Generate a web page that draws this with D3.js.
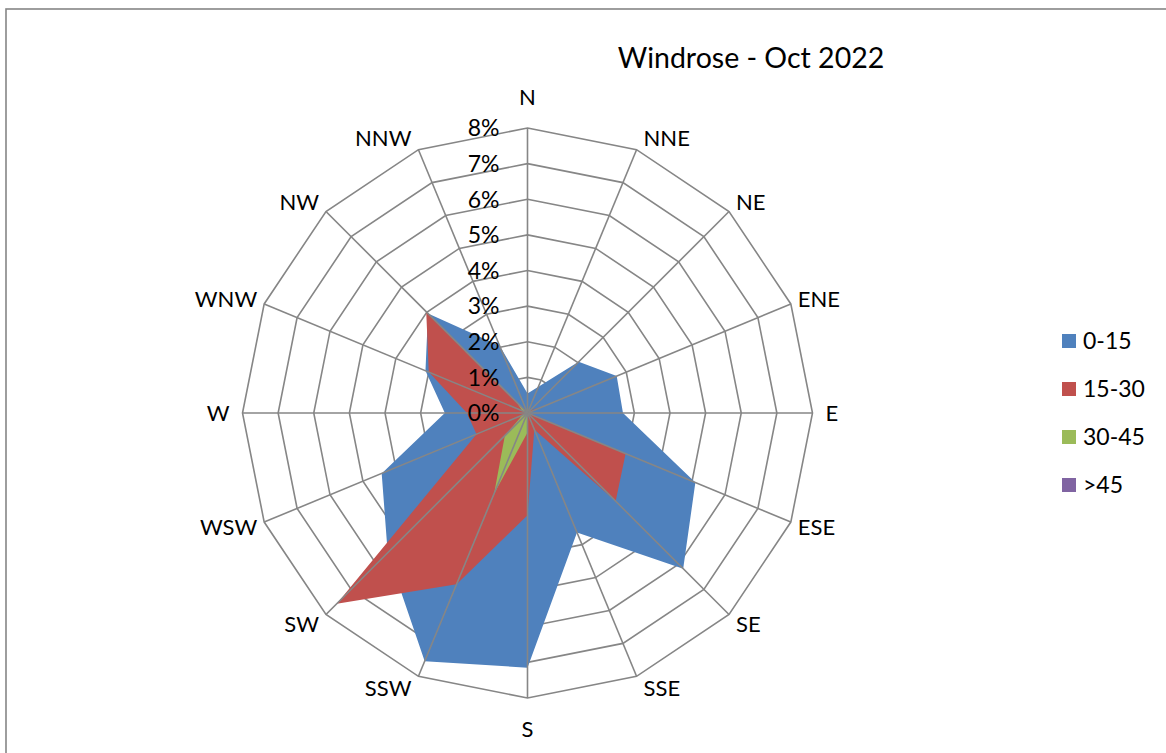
<!DOCTYPE html>
<html>
<head>
<meta charset="utf-8">
<script src="https://cdn.jsdelivr.net/npm/d3@7"></script>
<style>
  html, body { margin: 0; padding: 0; background: #fff; }
  svg { display: block; font-family: Lato, "Open Sans", sans-serif; }
</style>
</head>
<body>
<svg id="chart" width="1166" height="753"></svg>
<script>
// wind directions, clockwise from north
const directions = ["N", "NNE", "NE", "ENE", "E", "ESE", "SE", "SSE", "S", "SSW", "SW", "WSW", "W", "WNW", "NW", "NNW"]

// % of time per direction, one array per speed band
const speed0to15 = [0.55, 0.8, 2.03, 2.71, 2.68, 5.1, 6.18, 3.63, 7.15, 7.54, 5.55, 4.43, 2.32, 3.1, 3.95, 2.04]
const speed15to30 = [0, 0, 0.1, 0.53, 0.05, 2.98, 3.5, 0.5, 2.87, 5.2, 7.57, 1.55, 1.7, 3.0, 4.02, 0]
const speed30to45 = [0, 0, 0, 0, 0, 0, 0, 0, 0.55, 2.45, 0.9, 0.15, 0.05, 0.15, 0.45, 0]
const speedOver45 = [0, 0, 0, 0, 0, 0, 0, 0, 0, 0, 0, 0, 0, 0, 0, 0]

const seriesNames = ["0-15", "15-30", "30-45", ">45"]
const seriesColors = ["#4F81BD", "#C0504D", "#9BBB59", "#8064A2"]
const ringTicks = [0, 1, 2, 3, 4, 5, 6, 7, 8]

const title = "Windrose - Oct 2022"

const cx = 527.5, cy = 413
const gridColor = "#868686"

const svg = d3.select("#chart")

// chart area border (runs off the right and bottom of the window)
svg.append("rect")
    .attr("x", 6).attr("y", 9)
    .attr("width", 1300).attr("height", 900)
    .attr("fill", "#fff")
    .attr("stroke", gridColor)
    .attr("stroke-width", 1.6)

const r = d3.scaleLinear().domain([0, 8]).range([0, 285])
const step = 2 * Math.PI / directions.length
const ang = d => directions.indexOf(d) * step

const g = svg.append("g").attr("transform", `translate(${cx},${cy})`)

// rings
const ringLine = d3.lineRadial()
    .angle(d => ang(d))
    .curve(d3.curveLinearClosed)

g.append("g")
    .selectAll("path")
    .data(ringTicks.filter(t => t > 0))
    .join("path")
    .attr("d", t => ringLine.radius(() => r(t))(directions))
    .attr("fill", "none")
    .attr("stroke", gridColor)
    .attr("stroke-width", 1.6)

// filled series, drawn in order so later bands sit on top
const series = [speed0to15, speed15to30, speed30to45, speedOver45]
const area = d3.lineRadial()
    .angle((d, i) => i * step)
    .radius(d => r(d))
    .curve(d3.curveLinearClosed)

g.append("g")
    .selectAll("path")
    .data(series)
    .join("path")
    .attr("d", d => area(d))
    .attr("fill", (d, i) => seriesColors[i])

// spokes on top of the fills
g.append("g")
    .selectAll("line")
    .data(directions)
    .join("line")
    .attr("x1", 0).attr("y1", 0)
    .attr("x2", d => r(8) * Math.sin(ang(d)))
    .attr("y2", d => -r(8) * Math.cos(ang(d)))
    .attr("stroke", gridColor)
    .attr("stroke-width", 1.6)

// value labels along the north spoke
g.append("g")
    .selectAll("text")
    .data(ringTicks)
    .join("text")
    .attr("x", -28)
    .attr("y", t => -r(t))
    .attr("dy", "0.36em")
    .attr("text-anchor", "end")
    .attr("font-size", 23)
    .attr("fill", "#000")
    .text(t => t + "%")

// direction labels: beside the outer vertex, like excel does it
const rOut = r(8)
const labels = g.append("g")
    .selectAll("text")
    .data(directions)
    .join("text")
    .attr("font-size", 22)
    .attr("fill", "#000")
    .attr("dy", "0.36em")
    .text(d => d)

labels.each(function (d) {
    const s = Math.sin(ang(d)), c = Math.cos(ang(d))
    const vx = rOut * s, vy = -rOut * c
    const t = d3.select(this)
    if (Math.abs(s) < 1e-6) {
        t.attr("text-anchor", "middle").attr("x", vx).attr("y", vy - Math.sign(c) * 31)
    } else {
        const gap = Math.abs(c) < 1e-6 ? 13 : 7
        t.attr("text-anchor", s > 0 ? "start" : "end")
            .attr("x", vx + Math.sign(s) * gap)
            .attr("y", vy - c * 13)
    }
})

// title
svg.append("text")
    .attr("x", 751)
    .attr("y", 68)
    .attr("text-anchor", "middle")
    .attr("font-size", 28.5)
    .attr("fill", "#000")
    .text(title)

// legend
const legend = svg.append("g").attr("transform", "translate(1062,341)")
const item = legend.selectAll("g")
    .data(seriesNames)
    .join("g")
    .attr("transform", (d, i) => `translate(0,${i * 48})`)
item.append("rect")
    .attr("x", 0).attr("y", -7)
    .attr("width", 14).attr("height", 14)
    .attr("fill", (d, i) => seriesColors[i])
item.append("text")
    .attr("x", 21)
    .attr("dy", "0.36em")
    .attr("font-size", 23)
    .attr("fill", "#000")
    .text(d => d)
</script>
</body>
</html>
